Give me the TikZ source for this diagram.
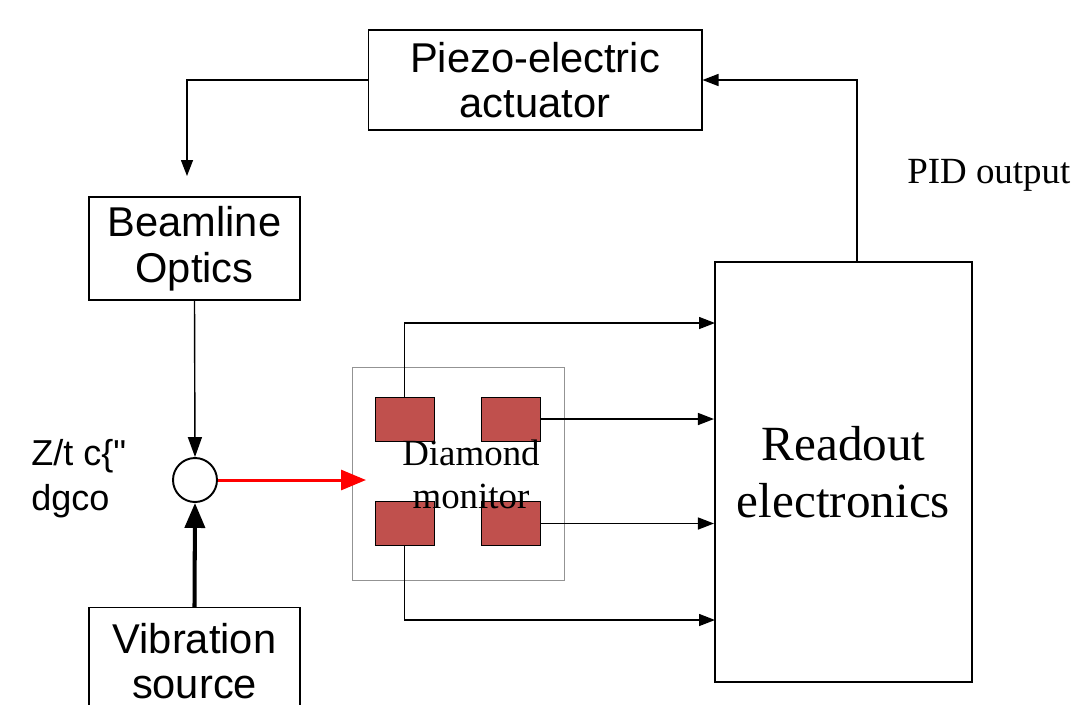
\documentclass[tikz,border=0pt]{standalone}
\usepackage{fontspec}
\setmainfont{Liberation Serif}
\newfontfamily\arialfont{Liberation Sans}
\usepackage{xcolor}
\definecolor{padred}{HTML}{C0504D}
\usetikzlibrary{arrows.meta,positioning,calc}

\begin{document}
\begin{tikzpicture}[
    x=0.02cm, y=-0.02cm,
    box/.style={rectangle, draw, line width=0.6pt, inner sep=0pt, align=center, font=\arialfont\fontsize{23.7}{26}\selectfont},
    pad/.style={rectangle, draw=black, line width=0.4pt, fill=padred, minimum width=1.18cm, minimum height=0.88cm, inner sep=0pt},
    arrow/.style={-{Triangle[length=3.2mm,width=2.4mm]}, line width=0.8pt}
]
    \clip (0,0) rectangle (1074,704);

    % boxes
    \node[box, minimum width=6.68cm, minimum height=2cm] (piezo) at (535,80) {Piezo-electric\\actuator};
    \node[box, minimum width=4.22cm, minimum height=2.06cm] (beam) at (194.5,248.5) {Beamline\\Optics};
    \node[box, minimum width=4.22cm, minimum height=2.14cm, anchor=north] (vib) at (194.5,607) {Vibration\\source};
    \node[circle, draw, line width=1.1pt, minimum size=0.88cm, inner sep=0pt] (sum) at (195,480) {};
    \node[align=left, anchor=west, inner sep=0pt, font=\arialfont\fontsize{20.5}{25.5}\selectfont] (noise) at (31,479) {Z/t c\{"\\dgco};

    % diamond monitor
    \node[rectangle, draw=gray!85, line width=0.5pt, minimum width=4.24cm, minimum height=4.26cm] (dmon) at (458,473.5) {};
    \node[pad] (sq1) at (404.5,419) {};
    \node[pad] (sq2) at (510.5,419) {};
    \node[pad] (sq3) at (404.5,523.5) {};
    \node[pad] (sq4) at (510.5,523.5) {};
    \node[align=center, inner sep=0pt, font=\fontsize{21}{24.4}\selectfont] (dlabel) at (471,474) {Diamond\\monitor};

    \node[rectangle, draw, line width=1.2pt, minimum width=5.14cm, minimum height=8.4cm, align=center, font=\fontsize{28}{32.3}\selectfont] (readout) at (843.5,472) {Readout\\electronics};
    \node[font=\fontsize{21}{24}\selectfont, anchor=west, inner sep=0pt] (pid) at (907,175) {PID output};

    % free ends
    \coordinate (bm-in) at (187,176);
    \coordinate (dm-in) at (366,480);
    \coordinate (r1) at (715,323);
    \coordinate (r4) at (715,620);
    \coordinate (pid-out) at (857,262);

    % connectors
    \draw[arrow] (piezo.west) -| (bm-in);
    \draw[-{Triangle[length=4mm,width=2.8mm]}, line width=0.8pt] (beam.south) -- (sum.north);
    \draw[-{Triangle[length=5mm,width=4mm]}, line width=2.3pt] (vib.north) -- (sum.south);
    \draw[-{Triangle[length=5mm,width=4mm]}, red, line width=1.7pt] (sum.east) -- (dm-in);
    \draw[arrow] (sq1.north) |- (r1);
    \draw[arrow] (sq2.east) -- (sq2.east -| readout.west);
    \draw[arrow] (sq4.east) -- (sq4.east -| readout.west);
    \draw[arrow] (sq3.south) |- (r4);
    \draw[arrow] (pid-out) |- (piezo.east);
\end{tikzpicture}
\end{document}
